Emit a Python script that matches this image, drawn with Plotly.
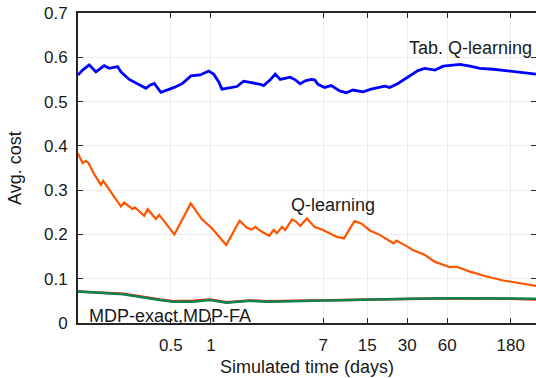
import plotly.graph_objects as go
import math

# ---- data (x in simulated days, y = average cost) ----
tab_q_days = [0.1, 0.1083, 0.1214, 0.1364, 0.1574, 0.1717, 0.1986, 0.2103, 0.2428, 0.2809,
              0.3243, 0.3475, 0.3744, 0.4205, 0.4722, 0.5295, 0.6122, 0.7070, 0.8307, 0.9609,
              1.048, 1.143, 1.210, 1.359, 1.569, 1.762, 2.034, 2.350, 2.492, 2.794,
              3.046, 3.322, 3.952, 4.308, 4.698, 5.124, 5.684, 6.030, 6.386, 7.171,
              8.04, 9.30, 10.42, 11.71, 13.92, 16.08, 20.28, 22.12, 25.53, 30.36,
              36.11, 40.55, 48.48, 55.97, 66.57, 74.74, 88.9, 105.7, 133.1, 167.9,
              199.7, 237.4, 279.0]
tab_q_cost = [0.560, 0.571, 0.583, 0.567, 0.581, 0.575, 0.579, 0.567, 0.550, 0.539,
              0.530, 0.537, 0.541, 0.521, 0.526, 0.532, 0.541, 0.558, 0.560, 0.569,
              0.562, 0.545, 0.528, 0.531, 0.534, 0.546, 0.543, 0.539, 0.536, 0.549,
              0.562, 0.550, 0.555, 0.549, 0.540, 0.547, 0.550, 0.549, 0.539, 0.532,
              0.536, 0.524, 0.520, 0.526, 0.522, 0.528, 0.535, 0.532, 0.541, 0.556,
              0.570, 0.575, 0.571, 0.580, 0.583, 0.584, 0.580, 0.575, 0.573, 0.570,
              0.567, 0.564, 0.562]

q_days = [0.1, 0.1083, 0.1147, 0.1202, 0.1324, 0.1487, 0.1547, 0.1821, 0.2103, 0.2227,
          0.2575, 0.2680, 0.3149, 0.3340, 0.3856, 0.4083, 0.5312, 0.7047, 0.8555, 1.017,
          1.303, 1.644, 1.866, 2.034, 2.154, 2.420, 2.746, 2.964, 3.138, 3.422,
          3.624, 4.069, 4.362, 4.698, 5.277, 6.009, 6.962, 8.768, 10.02, 12.02,
          13.52, 15.72, 18.60, 23.62, 24.88, 30.36, 32.94, 40.55, 48.48, 62.86,
          70.60, 88.9, 118.7, 158.2, 211.4, 279.0]
q_cost = [0.383, 0.361, 0.366, 0.361, 0.336, 0.312, 0.321, 0.289, 0.263, 0.272,
          0.257, 0.261, 0.242, 0.257, 0.235, 0.244, 0.200, 0.270, 0.234, 0.214,
          0.176, 0.231, 0.215, 0.211, 0.217, 0.206, 0.197, 0.210, 0.203, 0.217,
          0.210, 0.234, 0.229, 0.219, 0.236, 0.217, 0.210, 0.195, 0.191, 0.230,
          0.225, 0.209, 0.199, 0.180, 0.186, 0.172, 0.165, 0.154, 0.138, 0.126,
          0.127, 0.116, 0.105, 0.096, 0.090, 0.084]

mdp_days = [0.1, 0.2188, 0.4132, 0.5202, 0.7321, 0.983, 1.312, 1.966, 2.625, 8.234,
            31.05, 65.87, 175.6, 279.0]
mdp_exact_cost = [0.071, 0.066, 0.053, 0.049, 0.050, 0.053, 0.047, 0.051, 0.049, 0.051,
                  0.055, 0.056, 0.055, 0.053]
mdp_fa_cost = [0.071, 0.065, 0.052, 0.048, 0.048, 0.052, 0.046, 0.050, 0.048, 0.052,
               0.055, 0.056, 0.056, 0.055]

x_tick_vals = [0.5, 1, 7, 15, 30, 60, 180]
x_tick_text = ["0.5", "1", "7", "15", "30", "60", "180"]
y_tick_vals = [0, 0.1, 0.2, 0.3, 0.4, 0.5, 0.6, 0.7]
y_tick_text = ["0", "0.1", "0.2", "0.3", "0.4", "0.5", "0.6", "0.7"]

FONT = "Arial, Liberation Sans, sans-serif"

fig = go.Figure()
fig.add_trace(go.Scatter(x=mdp_days, y=mdp_exact_cost, mode="lines", name="MDP-exact",
                         line=dict(color="#ff1a00", width=2.5)))
fig.add_trace(go.Scatter(x=mdp_days, y=mdp_fa_cost, mode="lines", name="MDP-FA",
                         line=dict(color="#0b8450", width=2.5)))
fig.add_trace(go.Scatter(x=q_days, y=q_cost, mode="lines", name="Q-learning",
                         line=dict(color="#ff5400", width=2.2)))
fig.add_trace(go.Scatter(x=tab_q_days, y=tab_q_cost, mode="lines", name="Tab. Q-learning",
                         line=dict(color="#0000ff", width=2.8)))

annos = [
    ("Tab. Q-learning", 89.7, 0.621),
    ("Q-learning", 8.28, 0.266),
    ("MDP-exact,MDP-FA", 0.4914, 0.0158),
]
for text, xd, yv in annos:
    fig.add_annotation(x=math.log10(xd), y=yv, text=text, showarrow=False,
                       font=dict(family=FONT, size=18, color="#1a1a1a"),
                       xanchor="center", yanchor="middle")

# axis titles placed as paper annotations
fig.add_annotation(xref="paper", yref="paper", x=0, y=0.5, xshift=-63,
                   text="Avg. cost", textangle=-90, showarrow=False,
                   font=dict(family=FONT, size=18, color="#1a1a1a"),
                   xanchor="center", yanchor="middle")
fig.add_annotation(xref="paper", yref="paper", x=0.5, y=0, yshift=-44,
                   text="Simulated time (days)", showarrow=False,
                   font=dict(family=FONT, size=18, color="#1a1a1a"),
                   xanchor="center", yanchor="middle")

fig.update_layout(
    width=536, height=378,
    margin=dict(l=78, r=0, t=13, b=55),
    paper_bgcolor="white", plot_bgcolor="white",
    showlegend=False,
    font=dict(family=FONT, size=17, color="#1a1a1a"),
    xaxis=dict(type="log", range=[-1, math.log10(279)],
               tickvals=x_tick_vals, ticktext=x_tick_text,
               showgrid=True, gridcolor="#ebebeb", gridwidth=1,
               showline=True, linecolor="#262626", linewidth=2, mirror="ticks",
               ticks="inside", ticklen=5, tickcolor="#262626",
               zeroline=False, ticklabelstandoff=6, automargin=False),
    yaxis=dict(range=[0, 0.7], tickvals=y_tick_vals, ticktext=y_tick_text,
               showgrid=True, gridcolor="#ebebeb", gridwidth=1,
               showline=True, linecolor="#262626", linewidth=2, mirror="ticks",
               ticks="inside", ticklen=5, tickcolor="#262626",
               zeroline=False, ticklabelstandoff=5, automargin=False),
)

fig.write_html("out.html", config={"displayModeBar": False},
               post_script="document.body.style.margin='0';document.body.style.overflow='hidden';")
